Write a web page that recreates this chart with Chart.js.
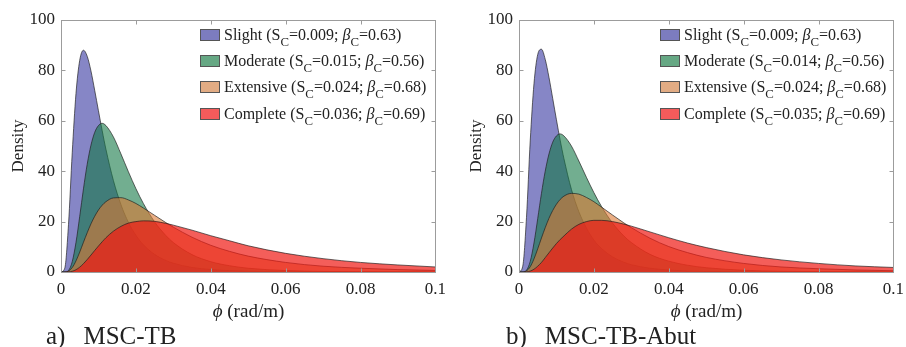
<!DOCTYPE html>
<html>
<head>
<meta charset="utf-8">
<script src="https://cdn.jsdelivr.net/npm/chart.js@4.4.1/dist/chart.umd.min.js"></script>
<style>
  html, body { margin: 0; padding: 0; background: #fff; }
  body { width: 906px; height: 347px; position: relative; overflow: hidden; font-family: "Liberation Serif", "DejaVu Serif", serif; color: #222; }
  .panel { position: absolute; top: 0; width: 453px; height: 347px; }
  .panel canvas { position: absolute; left: 0; top: 0; }
  .legend { position: absolute; top: 25px; font-size: 16px; }
  .legend .row { height: 26.2px; line-height: 20px; white-space: nowrap; }
  .legend .sw { display: inline-block; width: 18px; height: 10px; border: 1px solid #555; vertical-align: -1px; margin-right: 4px; }
  .legend sub { font-size: 80%; vertical-align: -0.45em; line-height: 0; }
  .xtitle { position: absolute; top: 300px; width: 375px; left: 61px; text-align: center; font-size: 19px; line-height: 22px; }
  .caption { position: absolute; top: 322px; font-size: 25px; line-height: 28px; white-space: nowrap; }
  .caption span { margin-left: 18px; }
</style>
</head>
<body>
<div class="panel" style="left:0">
  <canvas id="chartA" width="453" height="320"></canvas>
  <div class="legend" id="legendA" style="left:200px"></div>
  <div class="xtitle"><i>ϕ</i> (rad/m)</div>
  <div class="caption" style="left:46px">a)<span>MSC-TB</span></div>
</div>
<div class="panel" style="left:458px">
  <canvas id="chartB" width="453" height="320"></canvas>
  <div class="legend" id="legendB" style="left:202px"></div>
  <div class="xtitle"><i>ϕ</i> (rad/m)</div>
  <div class="caption" style="left:48px">b)<span>MSC-TB-Abut</span></div>
</div>
<script>
// curvature phi (rad/m), shared by every curve
const phi = [0, 0.001, 0.002, 0.003, 0.004, 0.005, 0.006, 0.007, 0.008, 0.009,
  0.010, 0.011, 0.012, 0.014, 0.016, 0.018, 0.020, 0.022, 0.025, 0.028,
  0.030, 0.035, 0.040, 0.045, 0.050, 0.060, 0.070, 0.080, 0.090, 0.100];

// a) MSC-TB densities
const slightA = [0, 1.5, 18.8, 47.3, 70.8, 84.0, 88.0, 85.6, 79.8, 72.1,
  64.0, 56.1, 48.7, 36.3, 26.8, 19.7, 14.6, 10.8, 7.0, 4.6,
  3.5, 1.8, 1.0, 0.55, 0.32, 0.11, 0.05, 0.02, 0.01, 0.005];
const moderateA = [0, 0, 0.6, 4.1, 11.7, 22.1, 33.0, 42.8, 50.3, 55.4,
  58.1, 59.0, 58.1, 53.6, 46.9, 39.8, 33.1, 27.2, 19.9, 14.5,
  11.7, 6.9, 4.1, 2.5, 1.5, 0.58, 0.24, 0.11, 0.05, 0.02];
const extensiveA = [0, 0, 0.36, 1.75, 4.4, 7.9, 11.8, 15.6, 19.1, 22.1,
  24.6, 26.5, 27.9, 29.4, 29.5, 28.6, 27.2, 25.4, 22.5, 19.6,
  17.8, 13.8, 10.6, 8.2, 6.3, 3.8, 2.3, 1.5, 0.95, 0.62];
const completeA = [0, 0, 0.05, 0.29, 0.91, 1.93, 3.31, 4.94, 6.71, 8.54,
  10.3, 12.0, 13.6, 16.2, 18.1, 19.4, 20.0, 20.3, 20.1, 19.3,
  18.6, 16.6, 14.4, 12.4, 10.4, 7.4, 5.3, 3.8, 2.8, 2.0];

// b) MSC-TB-Abut densities
const slightB = [0, 2.3, 21.7, 52.0, 74.7, 86.3, 88.4, 84.4, 77.3, 68.9,
  60.4, 52.3, 45.0, 32.8, 23.9, 17.5, 12.7, 9.4, 6.0, 3.9,
  2.9, 1.5, 0.8, 0.42, 0.25, 0.08, 0.04, 0.02, 0.01, 0.005];
const moderateB = [0, 0, 0.7, 4.2, 11.5, 21.2, 31.2, 40.0, 46.8, 51.5,
  54.0, 54.8, 54.0, 50.0, 44.0, 37.6, 31.5, 26.1, 19.4, 14.3,
  11.7, 7.0, 4.3, 2.7, 1.7, 0.7, 0.3, 0.14, 0.07, 0.03];
const extensiveB = [0, 0, 0.45, 2.1, 5.2, 9.2, 13.5, 17.6, 21.3, 24.4,
  26.9, 28.8, 30.1, 31.2, 30.9, 29.6, 27.9, 25.8, 22.6, 19.5,
  17.6, 13.4, 10.1, 7.7, 5.8, 3.4, 2.0, 1.3, 0.8, 0.5];
const completeB = [0, 0, 0.06, 0.36, 1.1, 2.3, 3.8, 5.7, 7.6, 9.5,
  11.3, 12.9, 14.3, 17.0, 18.9, 20.0, 20.5, 20.5, 20.0, 19.0,
  18.2, 15.9, 13.6, 11.5, 9.7, 6.8, 4.8, 3.4, 2.4, 1.8];

// legend entries
const states = ['Slight', 'Moderate', 'Extensive', 'Complete'];
const medianA = ['0.009', '0.015', '0.024', '0.036'];
const medianB = ['0.009', '0.014', '0.024', '0.035'];
const betaA = ['0.63', '0.56', '0.68', '0.69'];
const betaB = ['0.63', '0.56', '0.68', '0.69'];

const xTicks = [0, 0.02, 0.04, 0.06, 0.08, 0.1];
const yTicks = [0, 20, 40, 60, 80, 100];

const fills = ['rgba(88,88,176,0.72)', 'rgba(20,120,70,0.6)', 'rgba(220,120,50,0.6)', 'rgba(240,25,20,0.7)'];
const swatches = ['#7c7cbf', '#66a884', '#e2ac84', '#f45b5b'];

const framePlugin = {
  id: 'frame',
  afterDatasetsDraw(chart) {
    const { ctx, chartArea: a, scales: { x, y } } = chart;
    const l = Math.round(a.left) + 0.5, r = Math.round(a.right) + 0.5;
    const t = Math.round(a.top) + 0.5, b = Math.round(a.bottom) + 0.5;
    ctx.save();
    ctx.strokeStyle = '#9c9c9c';
    ctx.lineWidth = 1;
    ctx.strokeRect(l, t, r - l, b - t);
    ctx.beginPath();
    x.ticks.forEach(tk => {
      const px = Math.round(x.getPixelForValue(tk.value)) + 0.5;
      ctx.moveTo(px, b); ctx.lineTo(px, b - 4);
      ctx.moveTo(px, t); ctx.lineTo(px, t + 4);
    });
    y.ticks.forEach(tk => {
      const py = Math.round(y.getPixelForValue(tk.value)) + 0.5;
      ctx.moveTo(l, py); ctx.lineTo(l + 4, py);
      ctx.moveTo(r, py); ctx.lineTo(r - 4, py);
    });
    ctx.stroke();
    ctx.restore();
  }
};

const tickFont = { family: '"Liberation Serif", serif', size: 17 };

function buildChart(id, series) {
  const datasets = series.map((vals, i) => ({
    label: states[i],
    data: phi.map((p, k) => ({ x: p, y: vals[k] })),
    backgroundColor: fills[i],
    borderColor: 'rgba(30,30,30,0.75)',
    borderWidth: 0.9,
    fill: 'origin',
    pointRadius: 0,
    cubicInterpolationMode: 'monotone',
    order: 4 - i,
  }));

  return new Chart(document.getElementById(id), {
    type: 'line',
    data: { datasets },
    options: {
      responsive: false,
      animation: false,
      events: [],
      layout: { padding: { left: 0, right: 17, top: 20, bottom: 0 } },
      plugins: { legend: { display: false }, tooltip: { enabled: false } },
      scales: {
        x: {
          type: 'linear',
          min: 0,
          max: 0.1,
          afterBuildTicks: s => { s.ticks = xTicks.map(v => ({ value: v })); },
          afterFit: s => { s.height = 48; },
          grid: { display: false, drawTicks: false },
          border: { display: false },
          ticks: {
            color: '#222',
            font: tickFont,
            padding: 7,
            maxRotation: 0,
            callback: v => (v === 0 ? '0' : String(+v.toFixed(2))),
          },
        },
        y: {
          min: 0,
          max: 100,
          afterBuildTicks: s => { s.ticks = yTicks.map(v => ({ value: v })); },
          afterFit: s => { s.width = 61; },
          grid: { display: false, drawTicks: false },
          border: { display: false },
          title: {
            display: true,
            text: 'Density',
            color: '#222',
            font: tickFont,
            padding: { top: 8, bottom: 0 },
          },
          ticks: { color: '#222', font: tickFont, padding: 6 },
        },
      },
    },
    plugins: [framePlugin],
  });
}

function buildLegend(id, medians, betas) {
  const box = document.getElementById(id);
  states.forEach((s, i) => {
    const row = document.createElement('div');
    row.className = 'row';
    row.innerHTML = '<span class="sw" style="background:' + swatches[i] + '"></span>' +
      s + ' (S<sub>C</sub>=' + medians[i] + '; <i>β</i><sub>C</sub>=' + betas[i] + ')';
    box.appendChild(row);
  });
}

buildChart('chartA', [slightA, moderateA, extensiveA, completeA]);
buildChart('chartB', [slightB, moderateB, extensiveB, completeB]);
buildLegend('legendA', medianA, betaA);
buildLegend('legendB', medianB, betaB);
</script>
</body>
</html>
